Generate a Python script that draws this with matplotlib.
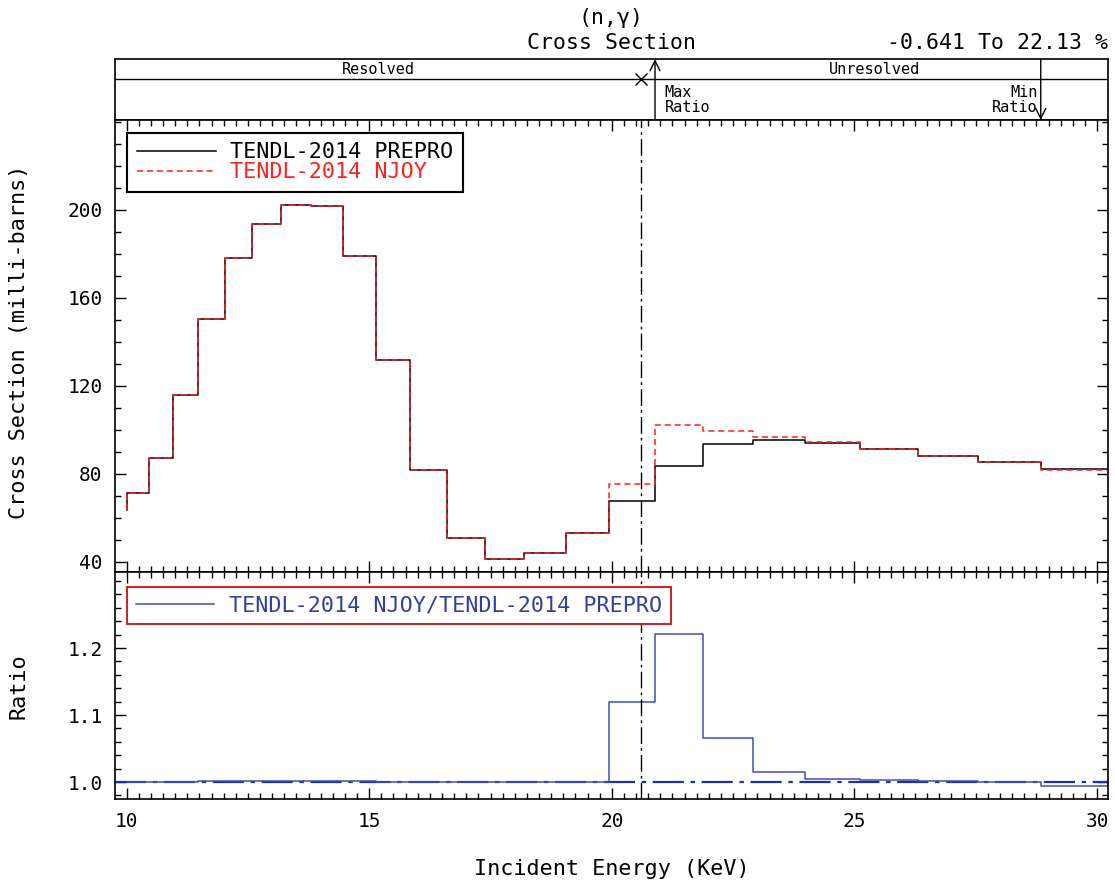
import matplotlib
matplotlib.use("Agg")
import matplotlib.pyplot as plt
from matplotlib.lines import Line2D
from matplotlib.ticker import MultipleLocator, FormatStrFormatter

plt.rcParams['font.family'] = ['DejaVu Sans Mono']

# -----------------------------
# Data (energies in keV, cross sections in milli-barns)
# -----------------------------
edges = [10.0, 10.47, 10.96, 11.48, 12.02, 12.59, 13.18, 13.80, 14.45, 15.14,
         15.85, 16.60, 17.38, 18.20, 19.05, 19.95, 20.89, 21.88, 22.91, 23.99,
         25.12, 26.30, 27.54, 28.84, 30.20]
prepro = [71.1, 87.3, 115.8, 150.2, 178.2, 193.6, 202.1, 201.7, 179.1, 131.8,
          82.0, 51.1, 41.4, 44.0, 53.2, 67.5, 83.5, 93.5, 95.6, 94.1,
          91.1, 88.0, 85.2, 82.1]
njoy = [71.1, 87.3, 115.8, 150.2, 178.2, 193.6, 202.1, 201.7, 179.1, 131.8,
        82.0, 51.1, 41.4, 44.0, 53.2, 75.6, 102.0, 99.6, 96.9, 94.4,
        91.4, 88.1, 85.2, 81.6]
ratio = [1.000, 1.000, 1.000, 1.001, 1.001, 1.002, 1.002, 1.001, 1.001, 1.000,
         1.000, 1.000, 1.000, 1.000, 1.000, 1.120, 1.2213, 1.066, 1.015, 1.004,
         1.003, 1.002, 1.000, 0.99359]
start_value = 63.5          # value just below 10 keV (the little tail at the left)
resolved_end = 20.6         # resolved / unresolved boundary
max_ratio_e = 20.89
min_ratio_e = 28.84

xmin, xmax = 9.76, 30.23

fig = plt.figure(figsize=(11.15, 8.84), dpi=100)
L, W = 0.1031, 0.8908
ax_h = fig.add_axes([L, 0.8643, W, 0.0687])
ax = fig.add_axes([L, 0.3526, W, 0.5117])
ax_r = fig.add_axes([L, 0.0956, W, 0.2570])

# -----------------------------
# Header strip
# -----------------------------
ax_h.set_xlim(xmin, xmax)
ax_h.set_ylim(0, 1)
ax_h.set_xticks([])
ax_h.set_yticks([])
ax_h.axhline(0.67, color="black", lw=1)
ax_h.text((xmin + resolved_end) / 2, 0.83, "Resolved", ha="center", va="center", fontsize=11)
ax_h.text((resolved_end + xmax) / 2, 0.83, "Unresolved", ha="center", va="center", fontsize=11)
ax_h.plot([resolved_end], [0.67], marker="x", ms=9, mew=1, color="black", clip_on=False)
ax_h.annotate("", xy=(max_ratio_e, 1.0), xytext=(max_ratio_e, 0.0),
              arrowprops=dict(arrowstyle="->", lw=1, color="black", shrinkA=0, shrinkB=0,
                              mutation_scale=18))
ax_h.annotate("", xy=(min_ratio_e, 0.0), xytext=(min_ratio_e, 1.0),
              arrowprops=dict(arrowstyle="->", lw=1, color="black", shrinkA=0, shrinkB=0,
                              mutation_scale=18))
ax_h.text(max_ratio_e + 0.2, 0.445, "Max", ha="left", va="center", fontsize=11)
ax_h.text(max_ratio_e + 0.2, 0.20, "Ratio", ha="left", va="center", fontsize=11)
ax_h.text(min_ratio_e - 0.06, 0.445, "Min", ha="right", va="center", fontsize=11)
ax_h.text(min_ratio_e - 0.06, 0.20, "Ratio", ha="right", va="center", fontsize=11)

fig.text(0.548, 1 - 18 / 884, "(n,\u03b3)", ha="center", va="center", fontsize=15.5)
fig.text(0.548, 1 - 43 / 884, "Cross Section", ha="center", va="center", fontsize=15.5)
fig.text(0.9937, 1 - 43 / 884, "-0.641 To 22.13 %", ha="right", va="center", fontsize=15.5)

# -----------------------------
# Main panel: cross sections
# -----------------------------
xs = [edges[0]] + edges
ax.step(xs, [start_value] + prepro + [prepro[-1]], where="post", color="black", lw=1.1,
        label="TENDL-2014 PREPRO")
ax.step(xs, [start_value] + njoy + [njoy[-1]], where="post", color="#ff2020", lw=1.1,
        dashes=(4, 2.5), label="TENDL-2014 NJOY")
ax.axvline(resolved_end, color="black", lw=1, dashes=(12, 3, 2, 3))
ax.set_xlim(xmin, xmax)
ax.set_ylim(35.3, 240.8)
ax.set_yticks([40, 80, 120, 160, 200])
ax.yaxis.set_minor_locator(MultipleLocator(10))
ax.xaxis.set_major_locator(MultipleLocator(5))
ax.xaxis.set_minor_locator(MultipleLocator(0.25))
ax.tick_params(labelbottom=False)
ax.set_ylabel("Cross Section (milli-barns)", fontsize=15.7, va="center")
ax.yaxis.set_label_coords(-0.0967, 0.51)

leg = ax.legend(loc="upper left", bbox_to_anchor=(0.0124, 0.972), borderaxespad=0,
                fontsize=15.7, handlelength=3.6, handletextpad=0.66, borderpad=0.45,
                labelspacing=0.0, fancybox=False, framealpha=1, edgecolor="black")
leg.get_frame().set_linewidth(1.5)
for t, c in zip(leg.get_texts(), ["black", "#ff2020"]):
    t.set_color(c)

# -----------------------------
# Ratio panel
# -----------------------------
blue = "#4050b0"
ax_r.axhline(1.0, color="#2030a0", lw=1.6, dashes=(14, 3, 2, 3))
ax_r.step(edges, ratio + [ratio[-1]], where="post", color=blue, lw=1.1)
ax_r.axvline(resolved_end, color="black", lw=1, dashes=(12, 3, 2, 3))
ax_r.set_xlim(xmin, xmax)
ax_r.set_ylim(0.974, 1.313)
ax_r.set_yticks([1.0, 1.1, 1.2])
ax_r.yaxis.set_major_formatter(FormatStrFormatter("%.1f"))
ax_r.yaxis.set_minor_locator(MultipleLocator(0.02))
ax_r.xaxis.set_major_locator(MultipleLocator(5))
ax_r.xaxis.set_minor_locator(MultipleLocator(0.25))
ax_r.set_ylabel("Ratio", fontsize=15.7, va="center")
ax_r.yaxis.set_label_coords(-0.0967, 0.5)
ax_r.set_xlabel("Incident Energy (KeV)", fontsize=15.7)
ax_r.xaxis.set_label_coords(0.5, -0.26)
ax_r.xaxis.label.set_va("top")

leg_r = ax_r.legend([Line2D([], [], color=blue, lw=1.1)],
                    ["TENDL-2014 NJOY/TENDL-2014 PREPRO"],
                    loc="upper left", bbox_to_anchor=(0.0124, 0.937), borderaxespad=0,
                    fontsize=15.7, handlelength=3.6, handletextpad=0.66, borderpad=0.4,
                    fancybox=False, framealpha=1, edgecolor="#c8282e")
leg_r.get_frame().set_linewidth(1.5)
leg_r.get_texts()[0].set_color("#3040a0")

for a in (ax, ax_r):
    a.tick_params(which="both", direction="in", top=True, right=True, width=1,
                  labelsize=14, pad=9)
    a.tick_params(which="major", length=8)
    a.tick_params(which="minor", length=4)
for a in (ax_h, ax, ax_r):
    for s in a.spines.values():
        s.set_linewidth(1.2)

fig.savefig("out.png", dpi=100)
